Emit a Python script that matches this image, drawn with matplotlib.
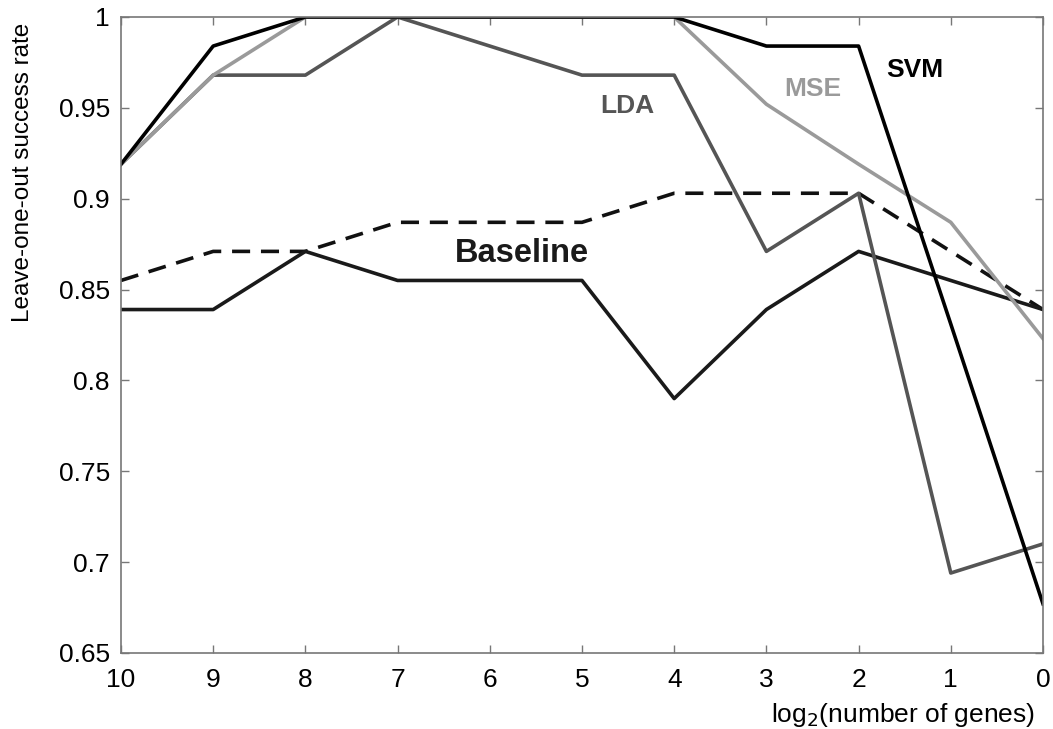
import matplotlib
matplotlib.use("Agg")
import matplotlib.pyplot as plt

# ------------------------------
# Data
# ------------------------------
log2_genes = [10, 9, 8, 7, 6, 5, 4, 3, 2, 1, 0]

svm = [0.919, 0.984, 1.0, 1.0, 1.0, 1.0, 1.0, 0.984, 0.984, 0.831, 0.677]
mse = [0.919, 0.968, 1.0, 1.0, 1.0, 1.0, 1.0, 0.952, 0.919, 0.887, 0.823]
lda = [0.919, 0.968, 0.968, 1.0, 0.984, 0.968, 0.968, 0.871, 0.903, 0.694, 0.710]
baseline = [0.839, 0.839, 0.871, 0.855, 0.855, 0.855, 0.790, 0.839, 0.871, 0.855, 0.839]
dashed = [0.855, 0.871, 0.871, 0.887, 0.887, 0.887, 0.903, 0.903, 0.903, 0.871, 0.839]

yticks = [0.65, 0.7, 0.75, 0.8, 0.85, 0.9, 0.95, 1.0]
ytick_labels = ["0.65", "0.7", "0.75", "0.8", "0.85", "0.9", "0.95", "1"]

plt.rcParams["font.family"] = ["Liberation Sans", "DejaVu Sans"]

fig = plt.figure(figsize=(10.53, 7.29), dpi=100)
ax = fig.add_axes([0.1149, 0.1043, 0.8756, 0.8724])

ax.plot(log2_genes, dashed, color="#111111", lw=2.6, ls=(0, (5, 3)))
ax.plot(log2_genes, baseline, color="#1a1a1a", lw=2.6)
ax.plot(log2_genes, lda, color="#555555", lw=2.6)
ax.plot(log2_genes, mse, color="#9a9a9a", lw=2.6)
ax.plot(log2_genes, svm, color="#000000", lw=2.6)

# labels on the curves
ax.text(4.805, 0.9472, "LDA", color="#555555", fontsize=19, fontweight="bold", va="baseline")
ax.text(2.81, 0.9565, "MSE", color="#9a9a9a", fontsize=19, fontweight="bold", va="baseline")
ax.text(1.70, 0.967, "SVM", color="#000000", fontsize=19, fontweight="bold", va="baseline")
ax.text(6.377, 0.8652, "Baseline", color="#1a1a1a", fontsize=23.5, fontweight="bold", va="baseline")

ax.set_xlim(10, 0)
ax.set_ylim(0.65, 1.0)
ax.set_xticks(log2_genes)
ax.set_yticks(yticks)
ax.set_yticklabels(ytick_labels)

for s in ax.spines.values():
    s.set_color("#777777")
    s.set_linewidth(1.2)
ax.tick_params(direction="in", length=6, width=1, color="#777777",
               labelsize=19, top=True, right=True)
ax.tick_params(axis="y", pad=8)
ax.tick_params(axis="x", pad=11)

fig.text(0.022, 0.763, "Leave-one-out success rate", fontsize=17.5, rotation=90,
         ha="center", va="center")
fig.text(0.983, 0.0096, r"log$_2$(number of genes)", fontsize=19, ha="right", va="baseline")

fig.savefig("out.png", dpi=100)
